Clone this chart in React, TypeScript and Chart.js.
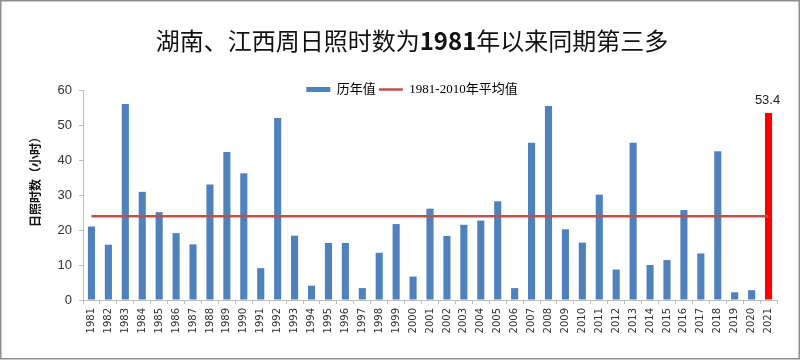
import { useEffect, useRef } from "react";
import { Chart, registerables } from "chart.js";

Chart.register(...registerables);

const TITLE_BEFORE = "湖南、江西周日照时数为";
const TITLE_YEAR = "1981";
const TITLE_AFTER = "年以来同期第三多";
const Y_TITLE = "日照时数（小时）";
const BAR_LABEL = "历年值";
const AVG_LABEL = "1981-2010年平均值";

const years = [
  "1981", "1982", "1983", "1984", "1985", "1986", "1987", "1988", "1989", "1990",
  "1991", "1992", "1993", "1994", "1995", "1996", "1997", "1998", "1999", "2000",
  "2001", "2002", "2003", "2004", "2005", "2006", "2007", "2008", "2009", "2010",
  "2011", "2012", "2013", "2014", "2015", "2016", "2017", "2018", "2019", "2020",
  "2021",
];

const sunshineHours = [
  21.0, 15.8, 56.0, 30.9, 25.1, 19.1, 15.9, 33.0, 42.3, 36.2,
  9.1, 52.0, 18.4, 4.1, 16.3, 16.3, 3.4, 13.5, 21.7, 6.7,
  26.1, 18.3, 21.5, 22.7, 28.2, 3.4, 44.9, 55.4, 20.2, 16.4,
  30.1, 8.7, 44.9, 10.0, 11.4, 25.7, 13.3, 42.5, 2.2, 2.8,
  53.4,
];

const AVERAGE_1981_2010 = 23.9;
const HIGHLIGHT_YEAR = "2021";
const yTicks = [0, 10, 20, 30, 40, 50, 60];

const BLUE = "#4F81BD";
const RED_BAR = "#FF0000";
const AVG_RED = "#C0504D";
const AXIS_GRAY = "#BFBFBF";

const framePlugin = {
  id: "frame",
  beforeDraw(chart: any) {
    const { ctx, width, height } = chart;
    ctx.save();
    ctx.fillStyle = "#ffffff";
    ctx.fillRect(0, 0, width, height);
    ctx.strokeStyle = "#8f8f8f";
    ctx.lineWidth = 1.5;
    ctx.strokeRect(0.75, 0.75, width - 1.5, height - 2);
    ctx.restore();
  },
};

const textPlugin = {
  id: "texts",
  afterLayout(chart: any) {
    const lg = chart.legend;
    if (lg) {
      const h = lg.bottom - lg.top;
      lg.top = 80;
      lg.bottom = 80 + h;
      lg.left = 12;
      lg.right = 812;
    }
  },
  afterDraw(chart: any) {
    const { ctx } = chart;
    ctx.save();
    const normalFont = "24px 'Noto Sans CJK SC', sans-serif";
    const boldFont = "bold 24px 'Noto Sans CJK SC', sans-serif";
    ctx.textBaseline = "middle";
    ctx.fillStyle = "#111111";
    ctx.font = normalFont;
    const w1 = ctx.measureText(TITLE_BEFORE).width;
    const w3 = ctx.measureText(TITLE_AFTER).width;
    ctx.font = boldFont;
    const w2 = ctx.measureText(TITLE_YEAR).width;
    const total = w1 + w2 + w3;
    let x = 412 - total / 2;
    const y = 41;
    ctx.textAlign = "left";
    ctx.font = normalFont;
    ctx.fillText(TITLE_BEFORE, x, y);
    x += w1;
    ctx.font = boldFont;
    ctx.fillText(TITLE_YEAR, x, y);
    x += w2;
    ctx.font = normalFont;
    ctx.fillText(TITLE_AFTER, x, y);

    ctx.translate(35, 179);
    ctx.rotate(-Math.PI / 2);
    ctx.textAlign = "center";
    ctx.font = "bold 12px 'Noto Sans CJK SC', sans-serif";
    ctx.fillStyle = "#111111";
    ctx.fillText(Y_TITLE, 0, 0);
    ctx.restore();
  },
  afterDatasetsDraw(chart: any) {
    const { ctx } = chart;
    const meta = chart.getDatasetMeta(0);
    const idx = years.indexOf(HIGHLIGHT_YEAR);
    const el = meta.data[idx];
    if (!el) return;
    ctx.save();
    ctx.font = "13px 'Liberation Sans', sans-serif";
    ctx.fillStyle = "#222222";
    ctx.textAlign = "center";
    ctx.textBaseline = "middle";
    ctx.fillText(sunshineHours[idx].toFixed(1), el.x - 1, el.y - 13);
    ctx.restore();
  },
};

export default function App() {
  const canvasRef = useRef<HTMLCanvasElement | null>(null);

  useEffect(() => {
    document.body.style.margin = "0";
    const canvas = canvasRef.current;
    if (!canvas) return;

    const barColors = years.map((y) => (y === HIGHLIGHT_YEAR ? RED_BAR : BLUE));
    const avgLine = years.map(() => AVERAGE_1981_2010);

    const chart = new Chart(canvas, {
      type: "bar",
      data: {
        labels: years,
        datasets: [
          {
            type: "bar",
            label: BAR_LABEL,
            data: sunshineHours,
            backgroundColor: barColors,
            borderWidth: 0,
            barPercentage: 0.42,
            categoryPercentage: 1,
            order: 1,
          } as any,
          {
            type: "line",
            label: AVG_LABEL,
            data: avgLine,
            borderColor: AVG_RED,
            backgroundColor: AVG_RED,
            borderWidth: 2.5,
            pointRadius: 0,
            fill: false,
            order: 0,
          } as any,
        ],
      },
      options: {
        responsive: false,
        animation: false,
        events: [],
        layout: { padding: { top: 64, right: 23, bottom: 0, left: 0 } },
        plugins: {
          title: { display: false },
          tooltip: { enabled: false },
          legend: {
            display: true,
            position: "top",
            align: "center",
            labels: {
              usePointStyle: true,
              pointStyleWidth: 24,
              boxHeight: 5,
              padding: 3,
              color: "#222222",
              font: { family: "'Liberation Serif', 'Noto Sans CJK SC', serif", size: 13 },
              generateLabels: () => [
                {
                  text: BAR_LABEL,
                  fillStyle: BLUE,
                  strokeStyle: BLUE,
                  lineWidth: 0,
                  pointStyle: "rect",
                  hidden: false,
                  datasetIndex: 0,
                },
                {
                  text: AVG_LABEL,
                  fillStyle: AVG_RED,
                  strokeStyle: AVG_RED,
                  lineWidth: 2.5,
                  pointStyle: "line",
                  hidden: false,
                  datasetIndex: 1,
                },
              ],
            },
          },
        },
        scales: {
          x: {
            type: "category",
            offset: true,
            afterFit: (s: any) => {
              s.height = 60;
            },
            grid: {
              display: true,
              offset: true,
              drawOnChartArea: false,
              drawTicks: true,
              tickLength: 4,
              color: AXIS_GRAY,
            },
            border: { display: true, color: AXIS_GRAY, width: 1 },
            ticks: {
              autoSkip: false,
              maxRotation: 90,
              minRotation: 90,
              padding: 4,
              color: "#333333",
              font: { family: "'DejaVu Sans', sans-serif", size: 10 },
            },
          },
          y: {
            type: "linear",
            min: 0,
            max: 60,
            afterFit: (s: any) => {
              s.width = 83;
            },
            afterBuildTicks: (s: any) => {
              s.ticks = yTicks.map((v) => ({ value: v }));
            },
            grid: {
              display: true,
              drawOnChartArea: false,
              drawTicks: true,
              tickLength: 4,
              color: AXIS_GRAY,
            },
            border: { display: true, color: AXIS_GRAY, width: 1 },
            ticks: {
              padding: 7,
              color: "#333333",
              font: { family: "'Liberation Sans', sans-serif", size: 13 },
            },
          },
        },
      },
      plugins: [framePlugin, textPlugin],
    });

    return () => {
      chart.destroy();
    };
  }, []);

  return (
    <div style={{ width: 800, height: 360 }}>
      <canvas ref={canvasRef} width={800} height={360} style={{ display: "block" }} />
    </div>
  );
}
